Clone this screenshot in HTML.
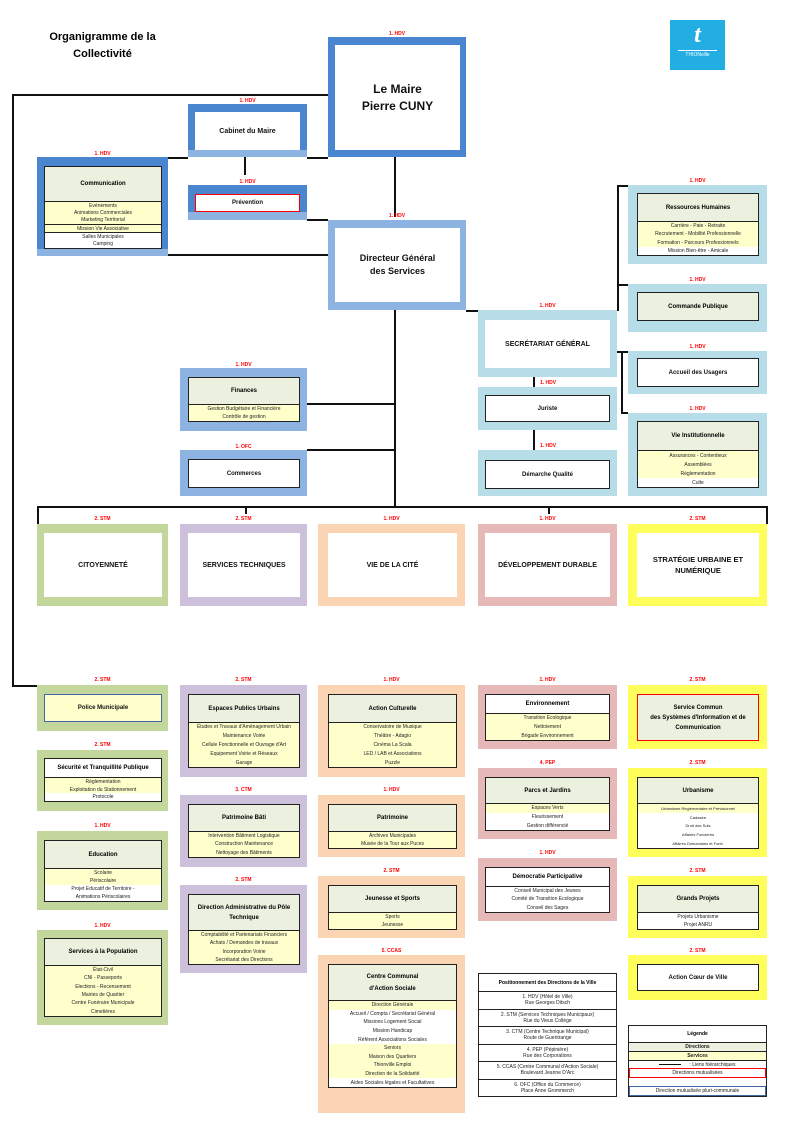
<!DOCTYPE html>
<html><head><meta charset="utf-8"><style>
*{box-sizing:border-box;margin:0;padding:0}
body{width:795px;height:1125px;position:relative;background:#fff;font-family:"Liberation Sans",sans-serif;overflow:hidden}
.o{position:absolute}
.lb{position:absolute;color:#f00;font-size:5px;font-weight:bold;text-align:center;height:6px;line-height:6px}
.i{position:absolute;border:1.5px solid #222;background:#fff;display:flex;flex-direction:column;overflow:hidden}
.h{background:#ebf1de;display:flex;align-items:center;justify-content:center;text-align:center;font-weight:bold;font-size:7px;line-height:10px;flex:none}
.hb{border-bottom:1.5px solid #222}
.s{flex:1;display:flex;flex-direction:column;font-size:5px;color:#222;text-align:center}
.s div{flex:1;display:flex;align-items:center;justify-content:center;white-space:nowrap}
.y{background:#ffffcc}
.w{background:#fff}
.ln{position:absolute;background:#111}
.big{display:flex;align-items:center;justify-content:center;text-align:center;font-weight:bold;color:#111}
</style></head><body>

<div style="position:absolute;left:35px;top:29px;width:135px;text-align:center;font-weight:bold;font-size:11px;line-height:17px">Organigramme de la<br>Collectivité</div>
<div style="position:absolute;left:670px;top:20px;width:55px;height:50px;background:#22aee3;color:#fff;text-align:center">
<div style="font-family:'Liberation Serif',serif;font-style:italic;font-weight:bold;font-size:24px;line-height:30px">t</div>
<div style="border-top:1px solid #fff;margin:0 8px;font-size:5px;line-height:8px">THION<i>ville</i></div></div>

<!-- lines -->
<div class="ln" style="left:12px;top:94px;width:316px;height:1.5px"></div>
<div class="ln" style="left:12px;top:94px;width:1.5px;height:593px"></div>
<div class="ln" style="left:12px;top:685px;width:25px;height:1.5px"></div>
<div class="ln" style="left:168px;top:157px;width:20px;height:1.5px"></div>
<div class="ln" style="left:307px;top:157px;width:21px;height:1.5px"></div>
<div class="ln" style="left:244px;top:157px;width:1.5px;height:18px"></div>
<div class="ln" style="left:307px;top:219px;width:21px;height:1.5px"></div>
<div class="ln" style="left:168px;top:254px;width:160px;height:1.5px"></div>
<div class="ln" style="left:394px;top:157px;width:1.5px;height:60px"></div>
<div class="ln" style="left:394px;top:310px;width:1.5px;height:196px"></div>
<div class="ln" style="left:307px;top:403px;width:88px;height:1.5px"></div>
<div class="ln" style="left:307px;top:449px;width:88px;height:1.5px"></div>
<div class="ln" style="left:466px;top:310px;width:12px;height:1.5px"></div>
<div class="ln" style="left:617px;top:185px;width:1.5px;height:126px"></div>
<div class="ln" style="left:617px;top:185px;width:11px;height:1.5px"></div>
<div class="ln" style="left:617px;top:284px;width:11px;height:1.5px"></div>
<div class="ln" style="left:621px;top:351px;width:1.5px;height:62px"></div>
<div class="ln" style="left:617px;top:351px;width:11px;height:1.5px"></div>
<div class="ln" style="left:621px;top:412px;width:7px;height:1.5px"></div>
<div class="ln" style="left:533px;top:377px;width:1.5px;height:10px"></div>
<div class="ln" style="left:533px;top:430px;width:1.5px;height:20px"></div>
<div class="ln" style="left:37px;top:506px;width:731px;height:1.5px"></div>
<div class="ln" style="left:37px;top:506px;width:1.5px;height:18px"></div>
<div class="ln" style="left:245px;top:506px;width:1.5px;height:8px"></div>
<div class="ln" style="left:548px;top:506px;width:1.5px;height:8px"></div>
<div class="ln" style="left:766px;top:506px;width:1.5px;height:18px"></div>

<!-- Maire -->
<div class="lb" style="left:328px;top:31px;width:138px">1. HDV</div>
<div class="o" style="left:328px;top:37px;width:138px;height:120px;background:#4a86d0"></div>
<div class="o big" style="left:335px;top:45px;width:125px;height:105px;background:#fff;font-size:12px;line-height:17px">Le Maire<br>Pierre CUNY</div>

<div class="lb" style="left:188px;top:98px;width:119px">1. HDV</div>
<div class="o" style="left:188px;top:104px;width:119px;height:53px;background:#4a86d0"></div>
<div class="o" style="left:188px;top:150px;width:119px;height:7px;background:#8db3e2"></div>
<div class="o big" style="left:195px;top:112px;width:105px;height:38px;background:#fff;font-size:7px">Cabinet du Maire</div>

<div class="lb" style="left:188px;top:179px;width:119px">1. HDV</div>
<div class="o" style="left:188px;top:185px;width:119px;height:35px;background:#4a86d0"></div>
<div class="o" style="left:188px;top:212px;width:119px;height:8px;background:#8db3e2"></div>
<div class="o big" style="left:195px;top:194px;width:105px;height:18px;background:#fff;border:1.5px solid #f00;font-size:6px">Prévention</div>

<div class="lb" style="left:37px;top:151px;width:131px">1. HDV</div>
<div class="o" style="left:37px;top:157px;width:131px;height:99px;background:#4a86d0"></div>
<div class="o" style="left:37px;top:249px;width:131px;height:7px;background:#8db3e2"></div>
<div class="i" style="left:44px;top:166px;width:118px;height:83px"><div class="h hb" style="height:35px;font-size:6px">Communication</div>
<div class="s"><div class="y">Evénements</div><div class="y">Animations Commerciales</div><div class="y" style="border-bottom:1px solid #222">Marketing Territorial</div><div class="y" style="border-bottom:1px solid #222">Mission Vie Associative</div><div>Salles Municipales</div><div>Camping</div></div></div>

<!-- DGS -->
<div class="lb" style="left:328px;top:213px;width:138px">1. HDV</div>
<div class="o" style="left:328px;top:220px;width:138px;height:90px;background:#8db3e2"></div>
<div class="o big" style="left:335px;top:228px;width:125px;height:74px;background:#fff;font-size:9px;line-height:13px">Directeur Général<br>des Services</div>

<div class="lb" style="left:180px;top:362px;width:127px">1. HDV</div>
<div class="o" style="left:180px;top:368px;width:127px;height:63px;background:#8db3e2"></div>
<div class="i" style="left:188px;top:377px;width:112px;height:45px"><div class="h hb" style="height:27px;font-size:6px">Finances</div>
<div class="s"><div class="y">Gestion Budgétaire et Financière</div><div class="y">Contrôle de gestion</div></div></div>

<div class="lb" style="left:180px;top:444px;width:127px">1. OFC</div>
<div class="o" style="left:180px;top:450px;width:127px;height:46px;background:#8db3e2"></div>
<div class="i big" style="left:188px;top:459px;width:112px;height:29px;font-size:6px">Commerces</div>

<!-- SG -->
<div class="lb" style="left:478px;top:303px;width:139px">1. HDV</div>
<div class="o" style="left:478px;top:310px;width:139px;height:67px;background:#b7dde8"></div>
<div class="o big" style="left:485px;top:320px;width:125px;height:48px;background:#fff;font-size:7px">SECRÉTARIAT GÉNÉRAL</div>

<div class="lb" style="left:538px;top:380px;width:20px">1. HDV</div>
<div class="o" style="left:478px;top:387px;width:139px;height:43px;background:#b7dde8"></div>
<div class="i big" style="left:485px;top:395px;width:125px;height:27px;font-size:6px">Juriste</div>

<div class="lb" style="left:538px;top:443px;width:20px">1. HDV</div>
<div class="o" style="left:478px;top:450px;width:139px;height:46px;background:#b7dde8"></div>
<div class="i big" style="left:485px;top:460px;width:125px;height:29px;font-size:6px">Démarche Qualité</div>

<div class="lb" style="left:628px;top:178px;width:139px">1. HDV</div>
<div class="o" style="left:628px;top:185px;width:139px;height:79px;background:#b7dde8"></div>
<div class="i" style="left:637px;top:193px;width:122px;height:63px"><div class="h hb" style="height:28px;font-size:6px">Ressources Humaines</div>
<div class="s"><div class="y">Carrière - Paie - Retraite</div><div class="y">Recrutement - Mobilité Professionnelle</div><div class="y">Formation - Parcours Professionnels</div><div>Mission Bien-être - Amicale</div></div></div>

<div class="lb" style="left:628px;top:277px;width:139px">1. HDV</div>
<div class="o" style="left:628px;top:284px;width:139px;height:48px;background:#b7dde8"></div>
<div class="i h" style="left:637px;top:292px;width:122px;height:29px;font-size:6px">Commande Publique</div>

<div class="lb" style="left:628px;top:344px;width:139px">1. HDV</div>
<div class="o" style="left:628px;top:351px;width:139px;height:43px;background:#b7dde8"></div>
<div class="i big" style="left:637px;top:358px;width:122px;height:29px;font-size:6px">Accueil des Usagers</div>

<div class="lb" style="left:628px;top:406px;width:139px">1. HDV</div>
<div class="o" style="left:628px;top:413px;width:139px;height:83px;background:#b7dde8"></div>
<div class="i" style="left:637px;top:421px;width:122px;height:67px"><div class="h hb" style="height:29px;font-size:6px">Vie Institutionnelle</div>
<div class="s"><div class="y">Assurances - Contentieux</div><div class="y">Assemblées</div><div class="y">Réglementation</div><div>Culte</div></div></div>

<!-- poles -->
<div class="lb" style="left:37px;top:516px;width:131px">2. STM</div>
<div class="o" style="left:37px;top:524px;width:131px;height:82px;background:#c3d69b"></div>
<div class="o big" style="left:44px;top:533px;width:118px;height:64px;background:#fff;font-size:7px">CITOYENNETÉ</div>
<div class="lb" style="left:180px;top:516px;width:127px">2. STM</div>
<div class="o" style="left:180px;top:524px;width:127px;height:82px;background:#ccc0da"></div>
<div class="o big" style="left:188px;top:533px;width:112px;height:64px;background:#fff;font-size:7px">SERVICES TECHNIQUES</div>
<div class="lb" style="left:318px;top:516px;width:147px">1. HDV</div>
<div class="o" style="left:318px;top:524px;width:147px;height:82px;background:#fbd4b4"></div>
<div class="o big" style="left:328px;top:533px;width:129px;height:64px;background:#fff;font-size:7px">VIE DE LA CITÉ</div>
<div class="lb" style="left:478px;top:516px;width:139px">1. HDV</div>
<div class="o" style="left:478px;top:524px;width:139px;height:82px;background:#e6b9b8"></div>
<div class="o big" style="left:485px;top:533px;width:125px;height:64px;background:#fff;font-size:7px">DÉVELOPPEMENT DURABLE</div>
<div class="lb" style="left:628px;top:516px;width:139px">2. STM</div>
<div class="o" style="left:628px;top:524px;width:139px;height:82px;background:#ffff5c"></div>
<div class="o big" style="left:637px;top:533px;width:122px;height:64px;background:#fff;font-size:7.5px;line-height:11px">STRATÉGIE URBAINE ET<br>NUMÉRIQUE</div>

<!-- col1 -->
<div class="lb" style="left:37px;top:677px;width:131px">2. STM</div>
<div class="o" style="left:37px;top:685px;width:131px;height:46px;background:#c3d69b"></div>
<div class="o big" style="left:44px;top:694px;width:118px;height:28px;background:#ffffcc;border:1.5px solid #3f68a8;font-size:6px">Police Municipale</div>

<div class="lb" style="left:37px;top:742px;width:131px">2. STM</div>
<div class="o" style="left:37px;top:750px;width:131px;height:61px;background:#c3d69b"></div>
<div class="i" style="left:44px;top:758px;width:118px;height:44px"><div class="h hb" style="height:19px;background:#fff;font-size:6px">Sécurité et Tranquillité Publique</div>
<div class="s"><div class="y">Réglementation</div><div class="y">Exploitation du Stationnement</div><div>Protocole</div></div></div>

<div class="lb" style="left:37px;top:823px;width:131px">1. HDV</div>
<div class="o" style="left:37px;top:831px;width:131px;height:79px;background:#c3d69b"></div>
<div class="i" style="left:44px;top:840px;width:118px;height:62px"><div class="h hb" style="height:28px;font-size:6px">Education</div>
<div class="s"><div class="y">Scolaire</div><div class="y">Périscolaire</div><div>Projet Educatif de Territoire -</div><div>Animations Périscolaires</div></div></div>

<div class="lb" style="left:37px;top:923px;width:131px">1. HDV</div>
<div class="o" style="left:37px;top:930px;width:131px;height:95px;background:#c3d69b"></div>
<div class="i" style="left:44px;top:938px;width:118px;height:79px"><div class="h hb" style="height:27px;font-size:6px">Services à la Population</div>
<div class="s y"><div>État-Civil</div><div>CNI - Passeports</div><div>Elections - Recensement</div><div>Mairies de Quartier</div><div>Centre Funéraire Municipale</div><div>Cimetières</div></div></div>

<!-- col2 -->
<div class="lb" style="left:180px;top:677px;width:127px">2. STM</div>
<div class="o" style="left:180px;top:685px;width:127px;height:92px;background:#ccc0da"></div>
<div class="i" style="left:188px;top:694px;width:112px;height:74px"><div class="h hb" style="height:28px;font-size:6px">Espaces Publics Urbains</div>
<div class="s y"><div>Études et Travaux d'Aménagement Urbain</div><div>Maintenance Voirie</div><div>Cellule Fonctionnelle et Ouvrage d'Art</div><div>Equipement Voirie et Réseaux</div><div>Garage</div></div></div>

<div class="lb" style="left:180px;top:787px;width:127px">3. CTM</div>
<div class="o" style="left:180px;top:795px;width:127px;height:72px;background:#ccc0da"></div>
<div class="i" style="left:188px;top:804px;width:112px;height:54px"><div class="h hb" style="height:27px;font-size:6px">Patrimoine Bâti</div>
<div class="s y"><div>Intervention Bâtiment Logistique</div><div>Construction Maintenance</div><div>Nettoyage des Bâtiments</div></div></div>

<div class="lb" style="left:180px;top:877px;width:127px">2. STM</div>
<div class="o" style="left:180px;top:885px;width:127px;height:88px;background:#ccc0da"></div>
<div class="i" style="left:188px;top:894px;width:112px;height:71px"><div class="h hb" style="height:36px;font-size:6px">Direction Administrative du Pôle<br>Technique</div>
<div class="s y"><div>Comptabilité et Partenariats Financiers</div><div>Achats / Demandes de travaux</div><div>Incorporation Voirie</div><div>Secrétariat des Directions</div></div></div>

<!-- col3 -->
<div class="lb" style="left:318px;top:677px;width:147px">1. HDV</div>
<div class="o" style="left:318px;top:685px;width:147px;height:92px;background:#fbd4b4"></div>
<div class="i" style="left:328px;top:694px;width:129px;height:74px"><div class="h hb" style="height:28px;font-size:6px">Action Culturelle</div>
<div class="s y"><div>Conservatoire de Musique</div><div>Théâtre - Adagio</div><div>Cinéma La Scala</div><div>LED / LAB et Associations</div><div>Puzzle</div></div></div>

<div class="lb" style="left:318px;top:787px;width:147px">1. HDV</div>
<div class="o" style="left:318px;top:795px;width:147px;height:62px;background:#fbd4b4"></div>
<div class="i" style="left:328px;top:804px;width:129px;height:45px"><div class="h hb" style="height:27px;font-size:6px">Patrimoine</div>
<div class="s y"><div>Archives Municipales</div><div>Musée de la Tour aux Puces</div></div></div>

<div class="lb" style="left:318px;top:868px;width:147px">2. STM</div>
<div class="o" style="left:318px;top:876px;width:147px;height:62px;background:#fbd4b4"></div>
<div class="i" style="left:328px;top:885px;width:129px;height:45px"><div class="h hb" style="height:27px;font-size:6px">Jeunesse et Sports</div>
<div class="s y"><div>Sports</div><div>Jeunesse</div></div></div>

<div class="lb" style="left:318px;top:948px;width:147px">5. CCAS</div>
<div class="o" style="left:318px;top:955px;width:147px;height:158px;background:#fbd4b4"></div>
<div class="i" style="left:328px;top:964px;width:129px;height:124px"><div class="h hb" style="height:36px;font-size:6px;line-height:12px">Centre Communal<br>d'Action Sociale</div>
<div class="s"><div class="y">Direction Générale</div><div>Accueil / Compta / Secrétariat Général</div><div>Missions Logement Social</div><div>Mission Handicap</div><div>Référent Associations Sociales</div><div class="y">Seniors</div><div class="y">Maison des Quartiers</div><div class="y">Thionville Emploi</div><div class="y">Direction de la Solidarité</div><div>Aides Sociales légales et Facultatives</div></div></div>

<!-- col4 -->
<div class="lb" style="left:478px;top:677px;width:139px">1. HDV</div>
<div class="o" style="left:478px;top:685px;width:139px;height:64px;background:#e6b9b8"></div>
<div class="i" style="left:485px;top:694px;width:125px;height:47px"><div class="h hb" style="height:19px;background:#fff;font-size:6px">Environnement</div>
<div class="s y"><div>Transition Ecologique</div><div>Nettoiement</div><div>Brigade Environnement</div></div></div>

<div class="lb" style="left:478px;top:760px;width:139px">4. PEP</div>
<div class="o" style="left:478px;top:768px;width:139px;height:71px;background:#e6b9b8"></div>
<div class="i" style="left:485px;top:777px;width:125px;height:54px"><div class="h hb" style="height:26px;font-size:6px">Parcs et Jardins</div>
<div class="s"><div class="y">Espaces Verts</div><div>Fleurissement</div><div>Gestion différencié</div></div></div>

<div class="lb" style="left:478px;top:850px;width:139px">1. HDV</div>
<div class="o" style="left:478px;top:858px;width:139px;height:63px;background:#e6b9b8"></div>
<div class="i" style="left:485px;top:867px;width:125px;height:46px"><div class="h hb" style="height:19px;background:#fff;font-size:6px">Démocratie Participative</div>
<div class="s"><div>Conseil Municipal des Jeunes</div><div>Comité de Transition Ecologique</div><div>Conseil des Sages</div></div></div>

<div class="i" style="left:478px;top:973px;width:139px;height:124px"><div class="h hb" style="height:18px;background:#fff;font-size:5px">Positionnement des Directions de la Ville</div>
<div class="s" style="font-size:5px"><div style="flex-direction:column;border-bottom:1px solid #222">1. HDV (Hôtel de Ville)<br>Rue Georges Ditsch</div><div style="flex-direction:column;border-bottom:1px solid #222">2. STM (Services Techniques Municipaux)<br>Rue du Vieux Collège</div><div style="flex-direction:column;border-bottom:1px solid #222">3. CTM (Centre Technique Municipal)<br>Route de Guentrange</div><div style="flex-direction:column;border-bottom:1px solid #222">4. PEP (Pépinière)<br>Rue des Corporations</div><div style="flex-direction:column;border-bottom:1px solid #222">5. CCAS (Centre Communal d'Action Sociale)<br>Boulevard Jeanne D'Arc</div><div style="flex-direction:column">6. OFC (Office du Commerce)<br>Place Anne Grommerch</div></div></div>

<!-- col5 -->
<div class="lb" style="left:628px;top:677px;width:139px">2. STM</div>
<div class="o" style="left:628px;top:685px;width:139px;height:64px;background:#ffff5c"></div>
<div class="o h" style="left:637px;top:694px;width:122px;height:47px;border:1.5px solid #f00;font-size:6px;line-height:10px">Service Commun<br>des Systèmes d'Information et de<br>Communication</div>

<div class="lb" style="left:628px;top:760px;width:139px">2. STM</div>
<div class="o" style="left:628px;top:768px;width:139px;height:89px;background:#ffff5c"></div>
<div class="i" style="left:637px;top:777px;width:122px;height:72px"><div class="h hb" style="height:26px;font-size:6px">Urbanisme</div>
<div class="s" style="font-size:4px"><div class="y">Urbanisme Réglementaire et Prévisionnel</div><div>Cadastre</div><div>Droit des Sols</div><div>Affaires Foncières</div><div>Affaires Domaniales et Fonti.</div></div></div>

<div class="lb" style="left:628px;top:868px;width:139px">2. STM</div>
<div class="o" style="left:628px;top:876px;width:139px;height:62px;background:#ffff5c"></div>
<div class="i" style="left:637px;top:885px;width:122px;height:45px"><div class="h hb" style="height:27px;font-size:6px">Grands Projets</div>
<div class="s"><div>Projets Urbanisme</div><div>Projet ANRU</div></div></div>

<div class="lb" style="left:628px;top:948px;width:139px">2. STM</div>
<div class="o" style="left:628px;top:955px;width:139px;height:45px;background:#ffff5c"></div>
<div class="i big" style="left:637px;top:964px;width:122px;height:27px;font-size:6px">Action Cœur de Ville</div>

<div class="i" style="left:628px;top:1025px;width:139px;height:72px;border-width:1.5px"><div class="h hb" style="height:17px;background:#fff;font-size:5px">Légende</div>
<div class="s" style="font-size:5px">
<div style="background:#ebf1de;font-weight:bold;border-bottom:1px solid #222">Directions</div>
<div style="background:#ffffcc;font-weight:bold;border-bottom:1px solid #222">Services</div>
<div><span style="display:inline-block;width:22px;height:1.5px;background:#111;margin-right:8px"></span>: Liens hiérarchiques</div>
<div style="border:1.5px solid #f00">Directions mutualisées</div>
<div></div>
<div style="border:1.5px solid #3f68a8">Direction mutualisée pluri-communale</div>
</div></div>

</body></html>
